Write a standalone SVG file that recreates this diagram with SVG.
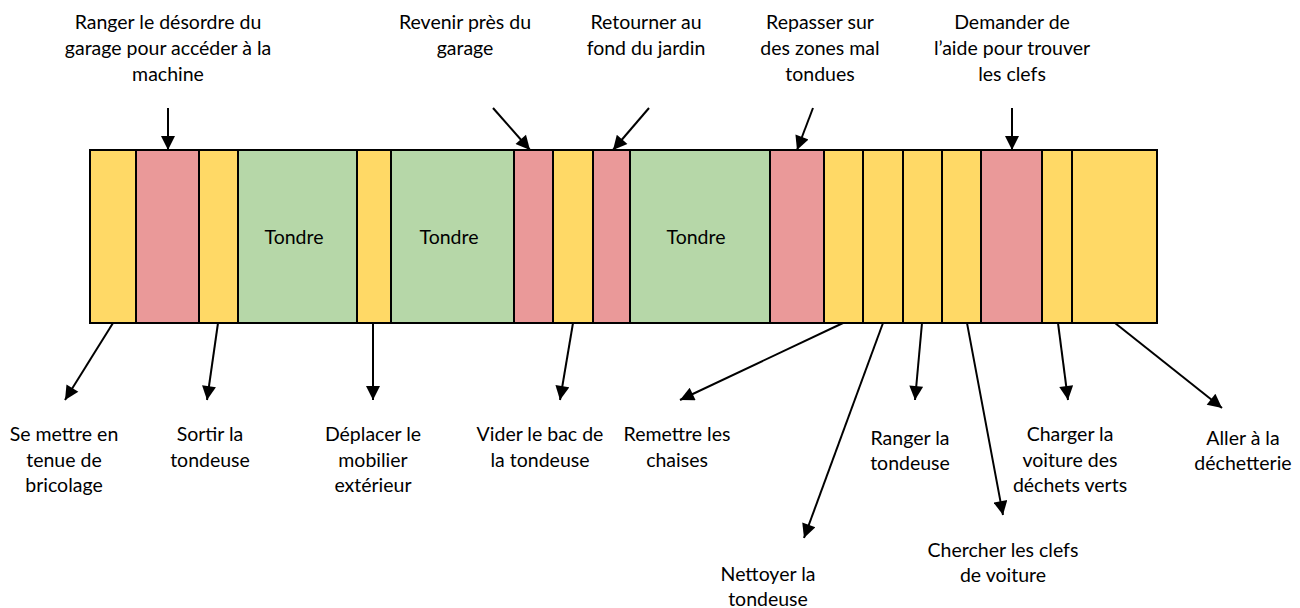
<svg xmlns="http://www.w3.org/2000/svg" width="1300" height="608" viewBox="0 0 1300 608">
<style>
.y{fill:#FFD966;stroke:#000;stroke-width:2}
.r{fill:#EA9999;stroke:#000;stroke-width:2}
.g{fill:#B6D7A8;stroke:#000;stroke-width:2}
text{font-family:Lato,"Liberation Sans",sans-serif;font-size:19.5px;fill:#000;text-anchor:middle}
.c line{stroke:#000;stroke-width:2;marker-end:url(#ah)}
</style>
<defs>
<marker id="ah" viewBox="0 0 10 10" refX="10" refY="5" markerUnits="userSpaceOnUse" markerWidth="16" markerHeight="14" orient="auto">
<path d="M0,0 L10,5 L0,10 z" fill="#000"/>
</marker>
</defs>
<rect x="0" y="0" width="1300" height="608" fill="#fff"/>
<g id="bar">
<g id="s1"><rect class="y" x="90" y="150" width="46" height="173"/></g>
<g id="s2"><rect class="r" x="136" y="150" width="63" height="173"/></g>
<g id="s3"><rect class="y" x="199" y="150" width="39" height="173"/></g>
<g id="s4"><rect class="g" x="238" y="150" width="119" height="173"/><text x="294" y="244">Tondre</text></g>
<g id="s5"><rect class="y" x="357" y="150" width="34" height="173"/></g>
<g id="s6"><rect class="g" x="391" y="150" width="123" height="173"/><text x="449" y="244">Tondre</text></g>
<g id="s7"><rect class="r" x="514" y="150" width="39" height="173"/></g>
<g id="s8"><rect class="y" x="553" y="150" width="40" height="173"/></g>
<g id="s9"><rect class="r" x="593" y="150" width="37" height="173"/></g>
<g id="s10"><rect class="g" x="630" y="150" width="140" height="173"/><text x="696" y="244">Tondre</text></g>
<g id="s11"><rect class="r" x="770" y="150" width="54" height="173"/></g>
<g id="s12"><rect class="y" x="824" y="150" width="39" height="173"/></g>
<g id="s13"><rect class="y" x="863" y="150" width="40" height="173"/></g>
<g id="s14"><rect class="y" x="903" y="150" width="39" height="173"/></g>
<g id="s15"><rect class="y" x="942" y="150" width="39" height="173"/></g>
<g id="s16"><rect class="r" x="981" y="150" width="61" height="173"/></g>
<g id="s17"><rect class="y" x="1042" y="150" width="30" height="173"/></g>
<g id="s18"><rect class="y" x="1072" y="150" width="85" height="173"/></g>
</g>
<g id="connectors" class="c">
<line x1="168" y1="108" x2="168" y2="150"/>
<line x1="493" y1="108" x2="530" y2="150"/>
<line x1="649" y1="108" x2="613" y2="150"/>
<line x1="813" y1="108" x2="797" y2="150"/>
<line x1="1012" y1="108" x2="1012" y2="150"/>
<line x1="113" y1="323" x2="65" y2="400"/>
<line x1="218" y1="323" x2="207" y2="400"/>
<line x1="373" y1="323" x2="373" y2="400"/>
<line x1="573" y1="323" x2="560" y2="400"/>
<line x1="843" y1="323" x2="680" y2="400"/>
<line x1="883" y1="323" x2="804" y2="538"/>
<line x1="922" y1="323" x2="915" y2="400"/>
<line x1="967" y1="323" x2="1003" y2="515"/>
<line x1="1058" y1="323" x2="1068" y2="400"/>
<line x1="1115" y1="323" x2="1222" y2="408"/>
</g>
<g id="t1"><text x="168" y="29">Ranger le désordre du</text><text x="168" y="55">garage pour accéder à la</text><text x="168" y="81">machine</text></g>
<g id="t2"><text x="465" y="29">Revenir près du</text><text x="465" y="55">garage</text></g>
<g id="t3"><text x="646" y="29">Retourner au</text><text x="646" y="55">fond du jardin</text></g>
<g id="t4"><text x="820" y="29">Repasser sur</text><text x="820" y="55">des zones mal</text><text x="820" y="81">tondues</text></g>
<g id="t5"><text x="1012" y="29">Demander de</text><text x="1012" y="55">l’aide pour trouver</text><text x="1012" y="81">les clefs</text></g>
<g id="b1"><text x="64" y="441">Se mettre en</text><text x="64" y="466.5">tenue de</text><text x="64" y="492">bricolage</text></g>
<g id="b2"><text x="210" y="441">Sortir la</text><text x="210" y="466.5">tondeuse</text></g>
<g id="b3"><text x="373" y="441">Déplacer le</text><text x="373" y="466.5">mobilier</text><text x="373" y="492">extérieur</text></g>
<g id="b4"><text x="540" y="441">Vider le bac de</text><text x="540" y="466.5">la tondeuse</text></g>
<g id="b5"><text x="677" y="441">Remettre les</text><text x="677" y="466.5">chaises</text></g>
<g id="b6"><text x="768" y="581">Nettoyer la</text><text x="768" y="606">tondeuse</text></g>
<g id="b7"><text x="910" y="444.5">Ranger la</text><text x="910" y="470">tondeuse</text></g>
<g id="b8"><text x="1003" y="556.5">Chercher les clefs</text><text x="1003" y="582">de voiture</text></g>
<g id="b9"><text x="1070" y="441">Charger la</text><text x="1070" y="466.5">voiture des</text><text x="1070" y="492">déchets verts</text></g>
<g id="b10"><text x="1243" y="444.5">Aller à la</text><text x="1243" y="470">déchetterie</text></g>
</svg>
